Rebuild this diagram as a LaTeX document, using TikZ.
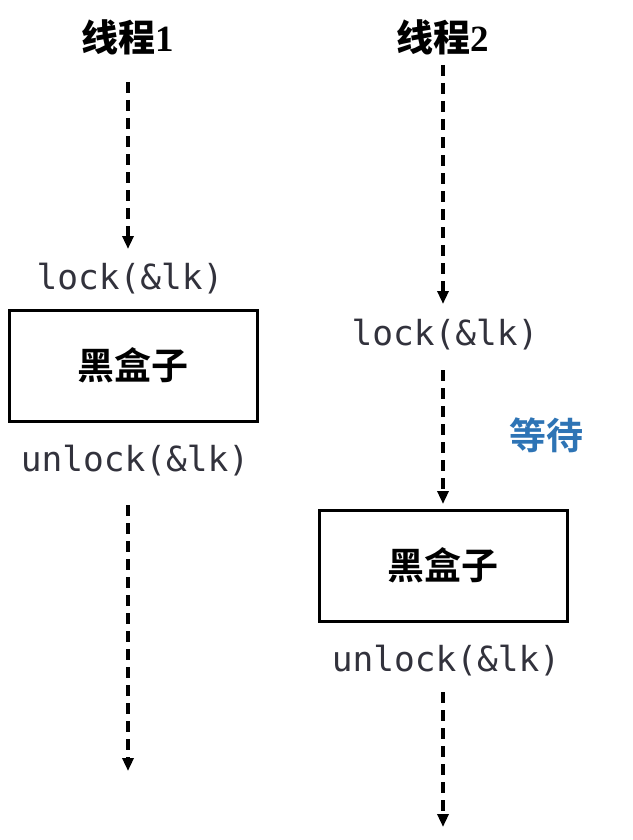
\documentclass[tikz,border=0pt]{standalone}
\usepackage{fontspec}
\setmainfont{Liberation Serif}
\setmonofont{DejaVu Sans Mono}
\newfontfamily\cjk{Noto Sans CJK SC}
\newfontfamily\cjkb{Noto Sans CJK SC Bold}
\usetikzlibrary{arrows.meta}
\definecolor{codegray}{RGB}{50,50,60}
\definecolor{waitblue}{RGB}{46,116,181}
\tikzset{
  flow/.style={line width=3.2pt, dash pattern=on 11pt off 7pt, -{Triangle[length=13pt,width=11pt]}},
  title/.style={font=\fontsize{37}{40}\selectfont\bfseries, inner sep=0pt},
  code/.style={font=\fontsize{34.5}{38}\selectfont\ttfamily, text=codegray, inner sep=0pt},
  boxnode/.style={draw, line width=3pt, minimum width=248pt, minimum height=111pt, inner sep=0pt, font=\fontsize{37}{40}\selectfont\cjkb},
  wait/.style={font=\fontsize{37}{40}\selectfont\cjkb, text=waitblue, inner sep=0pt}
}
\begin{document}
\begin{tikzpicture}[x=1pt,y=-1pt]
\useasboundingbox (0,0) rectangle (632,840);
% thread 1
\node[title] (t1) at (128,37) {{\cjkb 线程}1};
\coordinate (a1s) at (128,82);
\node[code] (l1) at (130,279) {lock(\&lk)};
\node[boxnode] (b1) at (133,365.5) {黑盒子};
\node[code] (u1) at (135,461) {unlock(\&lk)};
\coordinate (a1e) at (128,771);
\coordinate (a1t) at (128,249);
\coordinate (a2s) at (128,505);
\draw[flow] (a1s) -- (a1t);
\draw[flow] (a2s) -- (a1e);
% thread 2
\node[title] (t2) at (443,37) {{\cjkb 线程}2};
\coordinate (b2s) at (443,65);
\coordinate (b2t) at (443,304);
\node[code] (l2) at (445,335) {lock(\&lk)};
\coordinate (c2s) at (443,370);
\coordinate (c2t) at (443,504);
\node[wait] (w) at (546,435) {等待};
\node[boxnode] (b2) at (443,565.5) {黑盒子};
\node[code] (u2) at (446,661) {unlock(\&lk)};
\coordinate (d2s) at (443,692);
\coordinate (d2t) at (443,827);
\draw[flow] (b2s) -- (b2t);
\draw[flow] (c2s) -- (c2t);
\draw[flow] (d2s) -- (d2t);
\end{tikzpicture}
\end{document}
